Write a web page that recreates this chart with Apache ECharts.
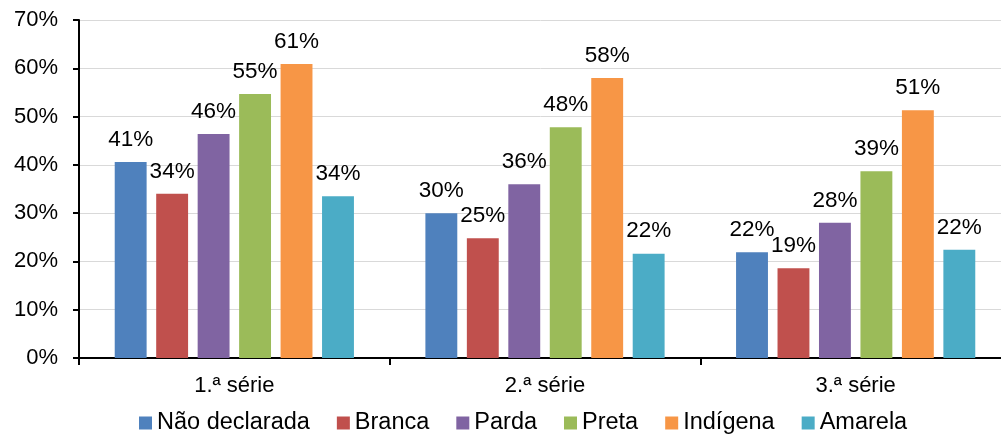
<!DOCTYPE html>
<html><head><meta charset="utf-8">
<script src="https://cdn.jsdelivr.net/npm/echarts@6/dist/echarts.min.js"></script>
<style>html,body{margin:0;padding:0;background:#fff;overflow:hidden}#c{width:1001px;height:434px}</style>
</head><body><div id="c"></div>
<script>
const categories = ['1.ª série', '2.ª série', '3.ª série'];
const seriesNames = ['Não declarada', 'Branca', 'Parda', 'Preta', 'Indígena', 'Amarela'];
const naoDeclarada = [40.6, 30.0, 21.9];
const branca = [34.0, 24.8, 18.6];
const parda = [46.4, 36.0, 28.0];
const preta = [54.7, 47.8, 38.7];
const indigena = [60.9, 58.0, 51.3];
const amarela = [33.5, 21.6, 22.4];
const yTicks = [0, 10, 20, 30, 40, 50, 60, 70];
const colors = ['#4F81BD', '#C0504D', '#8064A2', '#9BBB59', '#F79646', '#4BACC6'];
const values = [naoDeclarada, branca, parda, preta, indigena, amarela];

const font = 'Liberation Sans, Arial, sans-serif';
const chart = echarts.init(document.getElementById('c'), null, {renderer: 'canvas'});
chart.setOption({
  animation: false,
  color: colors,
  textStyle: {fontFamily: font},
  grid: {left: 79, width: 932, top: 20, height: 338, containLabel: false, outerBoundsMode: 'none'},
  legend: {
    data: seriesNames, top: 406, left: 134,
    icon: 'rect', itemWidth: 13, itemHeight: 13, itemGap: 27,
    textStyle: {fontSize: 23.5, color: '#000', fontFamily: font}
  },
  xAxis: {
    type: 'category', data: categories,
    axisLine: {lineStyle: {color: '#000', width: 2}},
    axisTick: {show: true, length: 7, lineStyle: {color: '#000', width: 2}},
    axisLabel: {fontSize: 22, color: '#000', margin: 17, fontFamily: font}
  },
  yAxis: {
    type: 'value', min: 0, max: 70, interval: 10,
    axisLine: {show: true, lineStyle: {color: '#000', width: 2}},
    axisTick: {show: true, length: 6, lineStyle: {color: '#000', width: 2}},
    splitLine: {lineStyle: {color: '#D9D9D9', width: 1}},
    axisLabel: {fontSize: 22, color: '#000', margin: 21, fontFamily: font,
      formatter: v => yTicks.includes(v) ? v + '%' : ''}
  },
  series: seriesNames.map((n, i) => ({
    name: n, type: 'bar', data: values[i],
    barGap: '30%', barCategoryGap: '23%',
    itemStyle: {color: colors[i]},
    label: {show: true, position: 'top', distance: 11, fontSize: 22.5, color: '#000', fontFamily: font,
      formatter: p => Math.round(p.value) + '%'}
  }))
});
</script></body></html>
